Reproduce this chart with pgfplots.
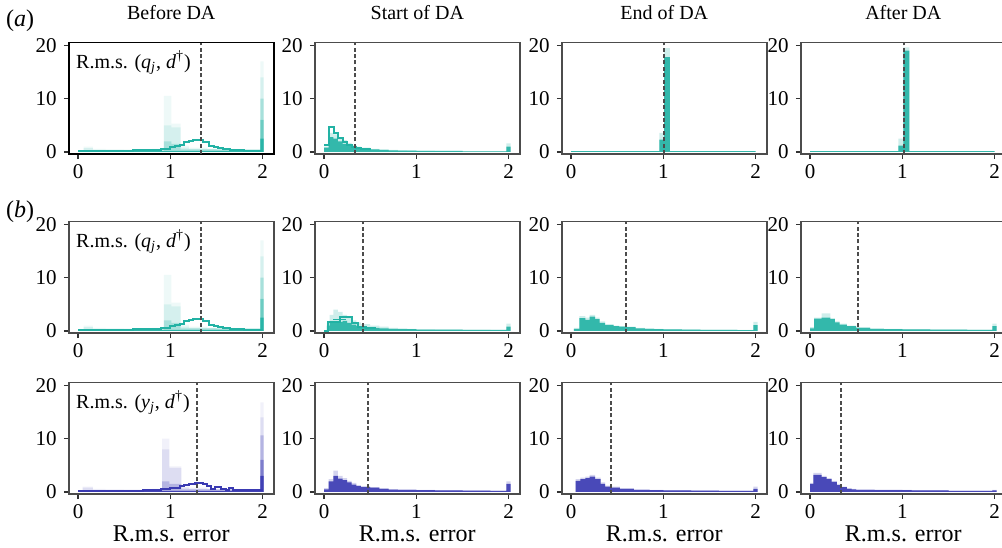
\documentclass[border=0pt]{standalone}
\usepackage{pgfplots}
\pgfplotsset{compat=1.18}
\usepackage{fontspec}
\setmainfont{Liberation Serif}
\definecolor{tl}{RGB}{34,178,164}
\definecolor{bl}{RGB}{58,58,178}
\pgfplotsset{panel/.style={scale only axis, width=102.5pt, height=55.7pt,
  xmin=-0.1, xmax=2.12, ymin=-0.4, ymax=20.5,
  xtick={0,1,2}, ytick={0,10,20}, xticklabels={0,1,2}, yticklabels={0,10,20},
  tick pos=left, tick align=outside,
  major tick length=2.5pt,
  axis line style={black!70, line width=0.7pt},
  tick style={black!80, line width=0.6pt},
  ticklabel style={font=\fontsize{10.5}{12}\selectfont},
  xticklabel style={yshift=1pt},
  title style={font=\fontsize{10}{12}\selectfont, yshift=2pt},
  xlabel style={at={(axis description cs:0.5,0)}, anchor=base, yshift=-23.8pt, font=\fontsize{12}{14}\selectfont},
  anchor=south west},
  fz/.style={const plot, fill=#1, fill opacity=0.22, draw=none},
  fs/.style={const plot, fill=#1, fill opacity=0.9, draw=none},
  ol/.style={const plot, draw=#1, line width=1pt}}
\newcommand{\meanline}[1]{\addplot[black!70, line width=1pt, dash pattern=on 2pt off 1.2pt] coordinates {(#1,-0.4) (#1,20.5)};}
\newcommand{\rmslabel}[1]{\node[anchor=north west, inner sep=1.5pt, font=\fontsize{10}{12}\selectfont] at (rel axis cs:0,1) [xshift=2pt,yshift=-2.5pt] {R.m.s. (\textit{#1}\textsubscript{\textit{j}}, \textit{d}\textsuperscript{†})};}
% Before DA, teal
\newcommand{\beforeq}{%
\addplot[const plot, fill=tl, fill opacity=0.08, draw=none] coordinates {(0,0.3)(0.06,1.0)(0.16,0.6)(0.3,0.5)(0.6,0.5)(0.8,0.6)(0.93,10.5)(1.01,5.3)(1.11,1.2)(1.2,0.8)(1.4,0.6)(1.7,0.4)(1.975,17)(2.01,0)} \closedcycle;
\addplot[const plot, fill=tl, fill opacity=0.12, draw=none] coordinates {(0,0.2)(0.06,0.7)(0.16,0.4)(0.5,0.35)(0.8,0.5)(0.93,5.0)(1.01,4.6)(1.11,0.8)(1.2,0.6)(1.5,0.4)(1.975,14)(2.01,0)} \closedcycle;
\addplot[const plot, fill=tl, fill opacity=0.25, draw=none] coordinates {(0,0.15)(0.5,0.2)(0.93,2.0)(1.01,1.5)(1.11,0.5)(1.975,10)(2.01,0)} \closedcycle;
\addplot[const plot, fill=tl, fill opacity=0.45, draw=none] coordinates {(0,0.1)(1.975,6)(2.01,0)} \closedcycle;
\addplot[const plot, fill=tl, fill opacity=0.9, draw=none] coordinates {(0,0.2)(1.975,2.5)(2.01,0)} \closedcycle;
\addplot[ol=tl] coordinates {(0,0.2)(0.6,0.3)(0.8,0.45)(0.9,0.6)(1.0,0.9)(1.05,1.1)(1.1,1.4)(1.15,1.8)(1.2,2.0)(1.25,2.2)(1.35,1.8)(1.42,1.1)(1.47,0.9)(1.52,0.7)(1.57,0.5)(1.65,0.35)(1.8,0.25)(1.975,0.25)(2.0,0.25)};
\meanline{1.33}}
\begin{document}
\begin{tikzpicture}
% ---------------- row a
\begin{axis}[panel, at={(34.4pt,196.45pt)}, title={Before DA}, axis line style={black, line width=0.8pt}]
\beforeq
\rmslabel{q}
\end{axis}
\begin{axis}[panel, at={(157.4pt,196.45pt)}, title={Start of DA}]
\addplot[fz=tl] coordinates {(0,1.0)(0.05,3.6)(0.1,3.3)(0.15,2.8)(0.2,2.2)(0.25,1.7)(0.3,1.3)(0.35,1.0)(0.4,0.8)(0.5,0.6)(0.6,0.5)(0.7,0.4)(0.8,0.35)(0.9,0.3)(1.0,0.25)(1.2,0.2)(1.5,0.15)(1.975,1.6)(2.02,0)} \closedcycle;
\addplot[fs=tl] coordinates {(0,0.8)(0.05,2.8)(0.1,2.5)(0.15,2.0)(0.2,1.5)(0.25,1.2)(0.3,1.0)(0.35,0.8)(0.4,0.6)(0.5,0.5)(0.6,0.4)(0.7,0.3)(0.8,0.25)(1.0,0.2)(1.5,0.1)(1.975,1.0)(2.02,0)} \closedcycle;
\addplot[ol=tl] coordinates {(0,1.3)(0.05,4.7)(0.11,3.6)(0.15,2.6)(0.2,1.9)(0.25,1.3)(0.3,0.9)(0.35,0.7)(0.4,0.5)(0.5,0.4)};
\meanline{0.335}
\end{axis}
\begin{axis}[panel, at={(280.9pt,196.45pt)}, title={End of DA}]
\addplot[fz=tl] coordinates {(0,0.1)(0.957,3.6)(1.007,19.5)(1.07,0.1)(2.0,0.1)} \closedcycle;
\addplot[fs=tl] coordinates {(0,0.15)(0.957,2.3)(1.007,17.8)(1.07,0.15)(2.0,0.15)} \closedcycle;
\meanline{1.01}
\end{axis}
\begin{axis}[panel, at={(400.4pt,196.45pt)}, title={After DA}]
\addplot[fz=tl] coordinates {(0,0.1)(0.957,2.5)(1.01,19.6)(1.075,0.1)(2.0,0.1)} \closedcycle;
\addplot[fs=tl] coordinates {(0,0.15)(0.957,1.2)(1.01,19.0)(1.075,0.15)(2.0,0.15)} \closedcycle;
\meanline{1.015}
\end{axis}
% ---------------- row b1
\begin{axis}[panel, at={(34.4pt,106.95pt)}]
\beforeq
\rmslabel{q}
\end{axis}
\begin{axis}[panel, at={(157.4pt,106.95pt)}]
\addplot[fz=tl] coordinates {(0.03,1.5)(0.06,3.0)(0.1,4.0)(0.15,3.6)(0.2,3.0)(0.25,2.6)(0.3,2.0)(0.35,1.6)(0.4,1.3)(0.5,1.0)(0.6,0.8)(0.7,0.6)(0.8,0.5)(0.9,0.4)(1.0,0.35)(1.2,0.3)(1.5,0.25)(1.8,0.2)(1.975,1.4)(2.02,0)} \closedcycle;
\addplot[fs=tl] coordinates {(0.03,1.0)(0.06,1.5)(0.1,1.8)(0.15,1.7)(0.2,1.9)(0.25,1.5)(0.3,1.2)(0.35,0.9)(0.4,0.7)(0.5,0.6)(0.6,0.5)(0.7,0.4)(0.8,0.35)(1.0,0.25)(1.5,0.2)(1.975,0.8)(2.02,0)} \closedcycle;
\addplot[ol=tl] coordinates {(0,0)(0.04,1.7)(0.17,2.7)(0.3,1.5)(0.37,0.8)(0.45,0.6)(0.55,0.5)};
\addplot[ol=tl, line width=0.7pt] coordinates {(0.1,2.1)(0.24,2.1)};
\meanline{0.42}
\end{axis}
\begin{axis}[panel, at={(280.9pt,106.95pt)}]
\addplot[fz=tl] coordinates {(0.03,0.6)(0.09,2.8)(0.155,2.5)(0.2,3.0)(0.26,2.5)(0.31,1.8)(0.37,1.3)(0.46,1.0)(0.52,0.9)(0.6,0.8)(0.7,0.6)(0.8,0.5)(0.9,0.4)(1.0,0.35)(1.2,0.3)(1.4,0.25)(1.6,0.25)(1.8,0.2)(1.975,1.7)(2.02,0)} \closedcycle;
\addplot[fs=tl] coordinates {(0.03,0.4)(0.09,2.4)(0.155,2.1)(0.2,2.7)(0.26,2.2)(0.31,1.5)(0.37,1.1)(0.46,0.9)(0.52,0.8)(0.6,0.7)(0.7,0.5)(0.8,0.4)(0.9,0.35)(1.0,0.3)(1.2,0.25)(1.4,0.2)(1.6,0.2)(1.8,0.15)(1.975,1.1)(2.02,0)} \closedcycle;
\meanline{0.6}
\end{axis}
\begin{axis}[panel, at={(400.4pt,106.95pt)}]
\addplot[fz=tl] coordinates {(0,0.7)(0.045,2.5)(0.125,3.3)(0.22,2.4)(0.27,1.8)(0.32,1.4)(0.4,1.0)(0.5,0.7)(0.65,0.5)(0.8,0.4)(1.0,0.35)(1.3,0.3)(1.7,0.25)(1.975,1.4)(2.02,0)} \closedcycle;
\addplot[fs=tl] coordinates {(0,0.5)(0.045,2.3)(0.125,2.5)(0.22,2.2)(0.27,1.6)(0.32,1.2)(0.4,0.9)(0.5,0.6)(0.65,0.4)(0.8,0.35)(1.0,0.3)(1.3,0.25)(1.7,0.2)(1.975,0.9)(2.02,0)} \closedcycle;
\meanline{0.52}
\end{axis}
% ---------------- row b2
\begin{axis}[panel, at={(34.4pt,26.45pt)}, xlabel={R.m.s. error}]
\addplot[const plot, fill=bl, fill opacity=0.07, draw=none] coordinates {(0,0.3)(0.05,1.0)(0.16,0.6)(0.3,0.5)(0.6,0.5)(0.8,0.6)(0.91,10.0)(0.99,4.8)(1.12,1.0)(1.2,0.8)(1.4,0.6)(1.7,0.4)(1.975,16.8)(2.01,0)} \closedcycle;
\addplot[const plot, fill=bl, fill opacity=0.11, draw=none] coordinates {(0,0.2)(0.05,0.8)(0.16,0.4)(0.5,0.35)(0.8,0.5)(0.91,8.0)(0.99,4.5)(1.12,0.8)(1.2,0.6)(1.5,0.4)(1.975,14)(2.01,0)} \closedcycle;
\addplot[const plot, fill=bl, fill opacity=0.25, draw=none] coordinates {(0,0.15)(0.5,0.2)(0.91,2.0)(0.99,1.5)(1.12,0.5)(1.975,10.6)(2.01,0)} \closedcycle;
\addplot[const plot, fill=bl, fill opacity=0.45, draw=none] coordinates {(0,0.1)(1.975,6)(2.01,0)} \closedcycle;
\addplot[const plot, fill=bl, fill opacity=0.9, draw=none] coordinates {(0,0.2)(1.975,3)(2.01,0)} \closedcycle;
\addplot[ol=bl] coordinates {(0,0.2)(0.7,0.4)(0.9,0.6)(1.0,0.8)(1.1,1.1)(1.15,1.3)(1.2,1.5)(1.27,1.7)(1.35,1.5)(1.4,1.1)(1.44,0.6)(1.48,0.9)(1.55,0.6)(1.6,0.4)(1.63,0.7)(1.68,0.35)(1.8,0.3)(1.975,0.3)(2.0,0.3)};
\meanline{1.29}
\rmslabel{y}
\end{axis}
\begin{axis}[panel, at={(157.4pt,26.45pt)}, xlabel={R.m.s. error}]
\addplot[fz=bl] coordinates {(0,0.7)(0.05,2.4)(0.1,4.0)(0.15,3.0)(0.2,2.6)(0.25,2.1)(0.3,1.7)(0.35,1.3)(0.4,1.1)(0.5,0.9)(0.6,0.7)(0.7,0.55)(0.8,0.5)(1.0,0.4)(1.2,0.35)(1.5,0.3)(1.8,0.25)(1.975,2.0)(2.02,0)} \closedcycle;
\addplot[fs=bl] coordinates {(0,0.5)(0.05,2.0)(0.1,3.0)(0.15,2.5)(0.2,2.2)(0.25,1.8)(0.3,1.4)(0.35,1.1)(0.4,0.9)(0.5,0.8)(0.6,0.6)(0.7,0.45)(0.8,0.4)(1.0,0.35)(1.2,0.3)(1.5,0.25)(1.8,0.2)(1.975,1.5)(2.02,0)} \closedcycle;
\meanline{0.48}
\end{axis}
\begin{axis}[panel, at={(280.9pt,26.45pt)}, xlabel={R.m.s. error}]
\addplot[fz=bl] coordinates {(0.05,2.4)(0.1,2.7)(0.155,2.9)(0.2,3.2)(0.26,2.7)(0.32,1.8)(0.37,1.2)(0.42,1.0)(0.53,0.7)(0.68,0.5)(0.85,0.4)(1.0,0.35)(1.3,0.3)(1.6,0.25)(1.975,1.0)(2.02,0)} \closedcycle;
\addplot[fs=bl] coordinates {(0.05,2.1)(0.1,2.4)(0.155,2.6)(0.2,2.9)(0.26,2.4)(0.32,1.5)(0.37,1.0)(0.42,0.8)(0.53,0.6)(0.68,0.4)(0.85,0.35)(1.0,0.3)(1.3,0.25)(1.6,0.2)(1.975,0.6)(2.02,0)} \closedcycle;
\meanline{0.43}
\end{axis}
\begin{axis}[panel, at={(400.4pt,26.45pt)}, xlabel={R.m.s. error}]
\addplot[fz=bl] coordinates {(0,1.7)(0.035,3.6)(0.125,3.0)(0.18,2.6)(0.235,2.1)(0.29,1.5)(0.34,1.0)(0.4,0.7)(0.45,0.6)(0.5,0.5)(0.7,0.45)(1.0,0.4)(1.1,0.35)(1.5,0.25)(1.975,0.4)(2.02,0)} \closedcycle;
\addplot[fs=bl] coordinates {(0,1.5)(0.035,3.2)(0.125,2.8)(0.18,2.4)(0.235,1.9)(0.29,1.3)(0.34,0.9)(0.4,0.6)(0.45,0.5)(0.5,0.4)(0.7,0.35)(1.0,0.35)(1.1,0.3)(1.5,0.2)(1.975,0.3)(2.02,0)} \closedcycle;
\meanline{0.33}
\end{axis}
\node[font=\fontsize{12}{14}\selectfont] at (10pt,263pt) {(\textit{a})};
\node[font=\fontsize{12}{14}\selectfont] at (10pt,167.5pt) {(\textit{b})};
\pgfresetboundingbox
\useasboundingbox (0,0) rectangle (501pt,273.5pt);
\end{tikzpicture}
\end{document}
